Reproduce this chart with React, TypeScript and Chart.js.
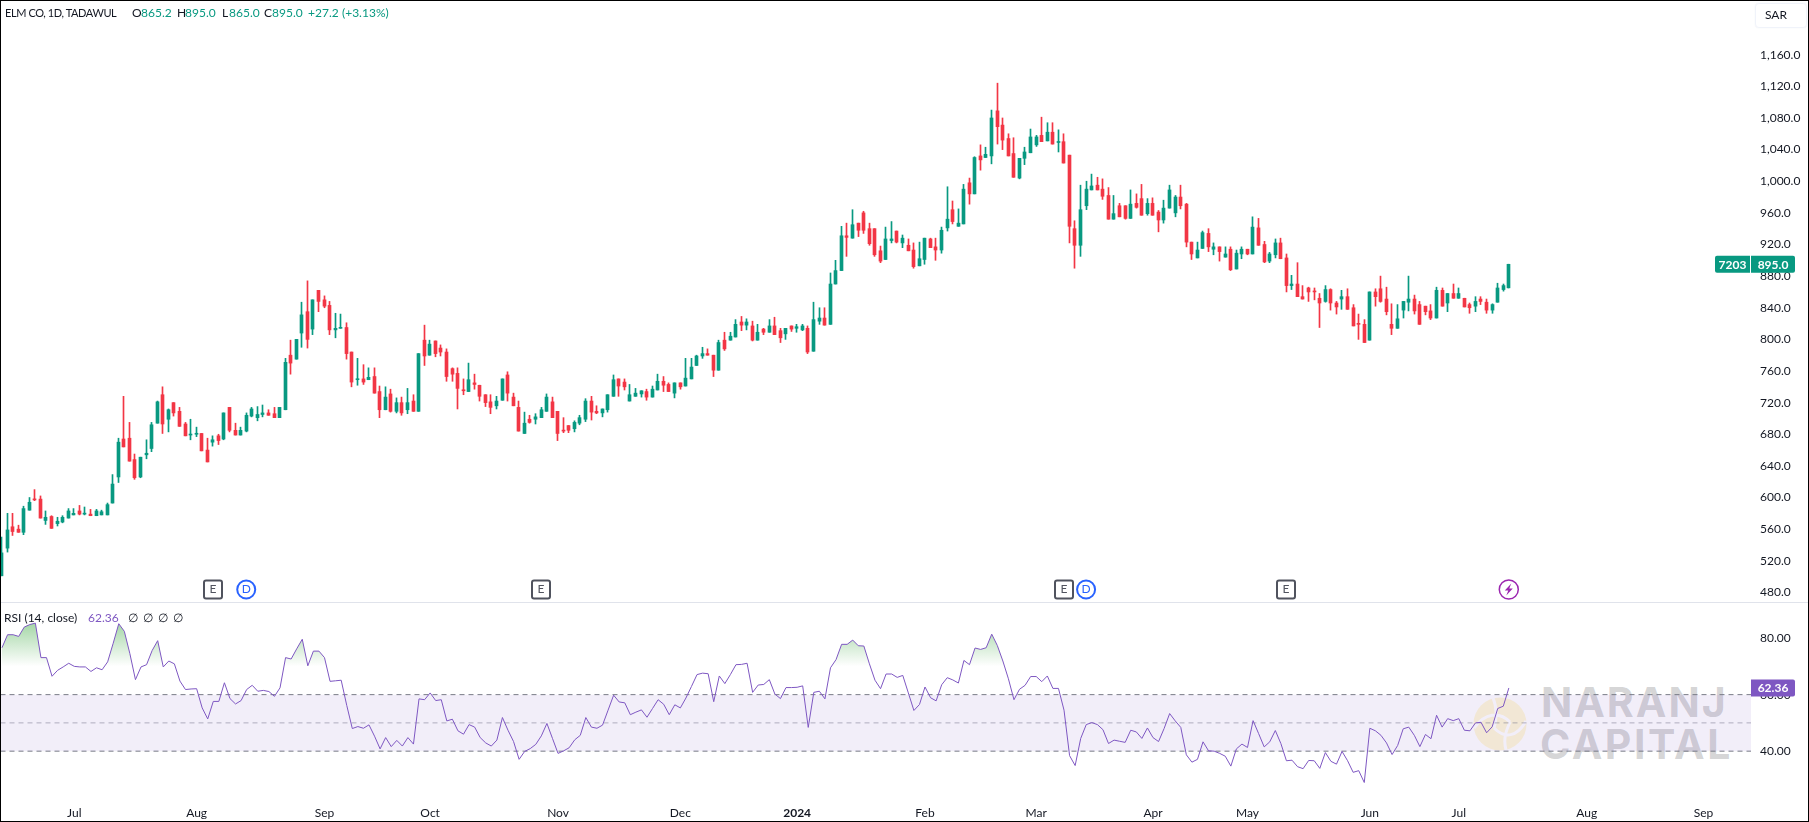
import React, { useEffect, useRef } from "react";
import { Chart, registerables } from "chart.js";

Chart.register(...registerables);

const UP = "#089981";
const DOWN = "#f23645";
const PURPLE = "#7e57c2";
const TEXT = "#131722";
const FONT = 'Lato, sans-serif';

const opens = [
  501,536,563,560,556,584,598,598,571,576,
  567,569,574,578,583,579,579,577,578,578,
  593,626,674,675,648,626,654,662,694,730,
  699,720,709,693,679,680,681,660,670,678,
  674,714,685,679,684,703,701,705,707,706,
  701,711,780,775,808,835,813,862,850,843,
  812,814,815,784,749,750,749,753,734,711,
  731,709,720,711,722,709,799,780,798,789,
  784,763,757,736,734,745,742,730,721,716,
  723,755,727,714,681,699,699,701,709,721,
  709,685,691,687,694,699,722,709,707,711,
  728,750,746,722,728,731,734,727,736,747,
  743,732,745,741,750,767,779,782,780,761,
  799,799,803,822,818,817,799,813,809,817,
  811,807,817,814,812,814,785,823,827,819,
  870,887,931,928,947,960,940,940,912,901,
  925,937,922,919,913,893,901,927,917,913,
  941,964,943,946,998,984,1032,1030,1032,1089,
  1071,1054,1035,1004,1029,1036,1046,1058,1051,1062,
  1049,1050,1033,940,919,969,989,995,990,982,
  952,969,969,953,972,978,959,972,961,951,
  966,960,980,971,923,903,915,934,914,917,
  904,914,889,908,914,908,941,920,899,907,
  922,903,868,870,854,865,861,852,848,863,
  846,851,854,840,820,819,799,860,864,851,
  819,814,837,847,851,844,842,836,827,862,
  846,858,852,852,844,842,851,847,837,847,
  863,865.2,
];
const highs = [
  550,580,580,565,589,600,610,602,583,577,
  575,577,586,586,590,588,585,585,584,593,
  629,675,728,695,655,651,673,695,722,740,
  712,720,714,695,699,689,681,675,678,680,
  707,714,694,689,707,714,715,717,711,714,
  714,776,799,800,847,874,850,862,855,848,
  833,832,821,784,776,768,764,764,741,740,
  737,726,727,738,730,782,818,799,798,793,
  788,764,764,750,770,756,742,730,730,728,
  750,759,732,722,708,704,706,714,731,727,
  709,701,691,697,704,725,728,716,712,730,
  755,750,750,743,738,735,737,741,756,753,
  745,745,745,776,776,780,790,788,780,799,
  809,809,825,829,826,823,819,814,825,828,
  814,814,817,819,819,817,847,840,840,884,
  900,943,947,964,947,962,947,940,918,942,
  949,937,932,927,922,923,928,928,928,942,
  993,975,965,996,1004,1031,1046,1043,1090,1124,
  1080,1060,1055,1029,1043,1066,1058,1081,1074,1074,
  1065,1060,1033,950,995,1000,1009,1005,1003,992,
  982,972,969,989,984,996,978,979,963,976,
  995,982,995,972,923,923,937,940,922,917,
  917,917,913,917,914,955,953,924,910,927,
  928,908,881,897,868,866,865,858,868,864,
  848,862,864,844,832,825,860,864,880,866,
  845,844,848,880,856,848,842,844,866,865,
  858,870,865,852,846,854,854,851,845,871,
  870,895,
];
const lows = [
  501,531,552,556,553,584,596,574,566,561,
  564,568,574,578,578,578,577,577,578,578,
  593,619,664,646,623,625,649,658,694,681,
  683,703,690,678,673,677,659,645,665,667,
  673,683,679,679,683,702,697,702,704,701,
  701,711,756,775,790,789,806,835,840,806,
  802,814,775,740,742,743,749,732,701,711,
  708,707,704,706,709,709,767,780,778,779,
  747,747,712,730,734,737,722,715,706,712,
  723,722,716,684,681,694,693,701,709,701,
  672,682,682,683,692,696,698,706,702,708,
  728,728,736,722,728,727,723,727,736,734,
  734,726,737,741,750,767,776,780,753,761,
  786,799,803,811,812,798,799,806,809,806,
  796,800,810,809,811,782,785,819,818,819,
  870,887,905,928,930,934,919,905,897,901,
  922,922,916,912,890,893,895,916,900,909,
  937,946,943,946,971,984,1014,1030,1022,1047,
  1040,1032,1005,1003,1021,1036,1044,1050,1051,1047,
  1037,1023,922,890,905,964,989,989,977,952,
  952,955,952,953,966,957,957,957,936,947,
  966,955,965,917,901,903,915,911,907,899,
  904,887,889,902,907,908,919,897,897,903,
  902,860,863,854,851,848,850,815,847,837,
  832,838,838,817,800,796,799,842,847,831,
  806,814,827,836,832,819,831,825,827,842,
  835,852,852,841,833,835,844,833,833,847,
  861,865,
];
const closes = [
  530,559,557,556,586,594,597,574,575,561,
  570,575,583,580,579,580,577,583,582,591,
  617,670,664,646,625,651,656,692,721,693,
  711,707,690,678,680,681,659,645,673,672,
  707,685,679,685,704,712,705,707,704,701,
  714,771,770,800,831,800,850,848,842,812,
  814,815,782,746,750,746,752,732,711,727,
  709,720,707,720,709,782,779,794,782,784,
  753,756,738,735,749,743,728,720,714,722,
  750,732,716,684,694,695,702,711,727,701,
  681,684,685,695,701,722,708,707,712,730,
  749,741,740,730,732,735,727,737,747,742,
  734,745,740,751,765,779,782,780,761,796,
  788,804,819,818,822,799,809,809,817,806,
  802,814,813,816,817,784,825,827,818,870,
  887,931,929,945,938,938,921,907,899,927,
  927,923,928,912,892,902,928,916,913,938,
  952,949,947,990,984,1030,1027,1034,1080,1069,
  1052,1032,1005,1029,1037,1056,1056,1050,1062,1047,
  1050,1023,943,919,964,990,994,989,981,952,
  959,955,953,971,967,957,972,957,951,966,
  989,980,969,923,908,913,935,917,917,911,
  908,888,909,914,908,942,919,898,908,922,
  902,868,870,854,851,860,860,846,863,846,
  841,854,838,817,819,796,860,854,848,835,
  814,826,848,851,836,819,835,827,862,842,
  858,852,858,841,840,848,848,837,844,865,
  868,895,
];
const rsi = [
  76.6,81.2,81.2,80.6,83.9,84.8,85.3,73.1,73.1,66.5,
  68.6,69.8,71.1,70,69.8,69.8,68.2,69.5,68.8,71.6,
  78.2,85.1,82.4,74.5,65.3,69.8,70.6,75.6,79.1,69.8,
  71.9,70.9,64.8,61.8,62,62.1,55.3,51.4,57.6,57.6,
  64.2,58.6,56.7,57.9,61.8,63.3,61.2,61.5,61.1,59.4,
  62.4,73.1,72.6,76.2,79.6,70.2,75.4,75.4,73.1,64.7,
  64.9,65.1,56.2,48,48.7,48.1,49.3,45.3,40.8,44.8,
  41.6,43.8,41.8,44.8,42.5,58.5,58.2,60.6,57.9,58.2,
  50.7,51.3,47.2,46,49.4,48.5,44.8,42.9,41.8,43.9,
  51.9,47.4,43.4,37.1,39.9,40.9,42.4,45.4,49.8,44.5,
  39.2,40.1,41.2,44,45.6,51.9,48.5,48.1,49.2,54.5,
  59.8,57.4,57.1,52.9,53.8,54.6,52,55.1,58.2,56.6,
  52.9,56.4,55.3,58.8,62.9,67.1,67.6,67.4,57.5,66.6,
  63.9,67.1,70.6,70.7,71.1,60.8,63.4,63.6,65.3,60.2,
  58.6,62.5,62.5,62.6,63.1,48.4,60.8,61.2,58.5,69.5,
  72.4,77.8,77.8,79.3,77.3,77.2,70.9,65.1,62.1,67.3,
  67.3,66.1,66.8,60.6,54.4,56.5,62.7,58.9,57.8,63.5,
  66,65.2,64.1,72.1,70.6,76.5,76,76.6,81.4,77.4,
  71.9,65.6,58.2,61.9,63.3,66.4,66.4,64.6,66.6,62.2,
  62.2,54.5,38.4,34.9,44.5,49.4,50.1,49.4,47.6,42.7,
  43.9,43.5,43.1,47.4,46.8,44.5,48.2,44.8,43.4,48,
  53.3,50.7,48.4,38.7,36.1,37.1,43.3,40.1,40,39.2,
  38.2,34.7,40.8,42.5,41.3,50.8,46.2,41.5,43.3,47.3,
  42.7,36.6,36.8,34.5,33.8,36.7,36.6,33.9,39.5,36.4,
  35.4,39.9,36.6,32.5,33.1,28.9,48.1,47.2,45.6,42.9,
  38.8,42,47.9,48.5,45.6,41.6,45.9,44.4,52.7,48.5,
  51.5,50.8,51.5,47.4,47.2,50,50.2,46.5,48.6,55.1,
  55.9,62.36,
];

const priceTicks = [1160,1120,1080,1040,1000,960,920,880,840,800,760,720,680,640,600,560,520,480];
const rsiTicks = [80,60,40];
const rsiUpper = 60;
const rsiMiddle = 50;
const rsiLower = 40;
const timeBars = [13,35,58,77,100,122,143,166,186,207,224,246,262,285,306];
const timeLabels = ["Jul","Aug","Sep","Oct","Nov","Dec","2024","Feb","Mar","Apr","May","Jun","Jul","Aug","Sep"];
const earningsBars = [38,97,191,231];
const dividendBars = [44,195];
const newsBars = [271];

const xMin = -0.27;
const xMax = 314.55;

// wicks of 1px look smeared unless the bars sit on whole pixels
const snapBars = {
  id: "snapBars",
  afterDatasetsUpdate(chart: any) {
    chart.data.datasets.forEach((_: any, i: number) => {
      chart.getDatasetMeta(i).data.forEach((el: any) => {
        el.x = Math.round(el.x - 0.5) + 0.5;
      });
    });
  },
};

const priceMarkers = {
  id: "priceMarkers",
  afterDraw(chart: any) {
    const { ctx, scales } = chart;
    const markerY = 589.5;
    ctx.save();
    ctx.textAlign = "center";
    ctx.textBaseline = "middle";

    earningsBars.forEach((bar) => {
      const x = Math.round(scales.x.getPixelForValue(bar));
      ctx.beginPath();
      ctx.roundRect(x - 9, markerY - 9, 18, 18, 2);
      ctx.fillStyle = "#fff";
      ctx.fill();
      ctx.lineWidth = 2;
      ctx.strokeStyle = "#50535e";
      ctx.stroke();
      ctx.fillStyle = "#50535e";
      ctx.font = `12px ${FONT}`;
      ctx.fillText("E", x, markerY);
    });

    dividendBars.forEach((bar) => {
      const x = scales.x.getPixelForValue(bar);
      ctx.beginPath();
      ctx.arc(x, markerY, 9, 0, Math.PI * 2);
      ctx.fillStyle = "#fff";
      ctx.fill();
      ctx.lineWidth = 2;
      ctx.strokeStyle = "#2962ff";
      ctx.stroke();
      ctx.fillStyle = "#2962ff";
      ctx.font = `12px ${FONT}`;
      ctx.fillText("D", x, markerY);
    });

    newsBars.forEach((bar) => {
      const x = scales.x.getPixelForValue(bar);
      ctx.beginPath();
      ctx.arc(x, markerY, 9.5, 0, Math.PI * 2);
      ctx.lineWidth = 1.5;
      ctx.strokeStyle = "#9c27b0";
      ctx.stroke();
      ctx.beginPath();
      ctx.moveTo(x + 2.5, markerY - 6);
      ctx.lineTo(x - 4, markerY + 1);
      ctx.lineTo(x - 0.5, markerY + 1);
      ctx.lineTo(x - 2.5, markerY + 6);
      ctx.lineTo(x + 4, markerY - 1);
      ctx.lineTo(x + 0.5, markerY - 1);
      ctx.closePath();
      ctx.fillStyle = "#9c27b0";
      ctx.fill();
    });

    // last price tag
    const last = closes[closes.length - 1];
    const y = scales.y.getPixelForValue(last);
    ctx.fillStyle = UP;
    ctx.beginPath();
    ctx.roundRect(1715, y - 8.5, 35, 17, [2, 0, 0, 2]);
    ctx.fill();
    ctx.beginPath();
    ctx.roundRect(1751, y - 8.5, 44, 17, [0, 2, 2, 0]);
    ctx.fill();
    ctx.fillStyle = "#fff";
    ctx.font = `bold 12px ${FONT}`;
    ctx.fillText("7203", 1732.5, y + 0.5);
    ctx.fillText(last.toFixed(1), 1773, y + 0.5);
    ctx.restore();
  },
};

const rsiTag = {
  id: "rsiTag",
  afterDraw(chart: any) {
    const { ctx, scales } = chart;
    const last = rsi[rsi.length - 1];
    const y = scales.y.getPixelForValue(last);
    ctx.save();
    ctx.fillStyle = PURPLE;
    ctx.beginPath();
    ctx.roundRect(1751, y - 8.5, 44, 17, [0, 2, 2, 0]);
    ctx.fill();
    ctx.fillStyle = "#fff";
    ctx.font = `bold 12px ${FONT}`;
    ctx.textAlign = "center";
    ctx.textBaseline = "middle";
    ctx.fillText(last.toFixed(2), 1773, y + 0.5);
    ctx.restore();
  },
};

const flatLine = (value: number, color: string) => ({
  type: "line",
  data: [{ x: xMin, y: value }, { x: xMax, y: value }],
  borderColor: color,
  borderWidth: 1,
  borderDash: [5, 4],
  pointRadius: 0,
  fill: false,
  order: 3,
});

// chart.js keeps half a label of room at both ends of an axis, the chart has none
const noAxisPadding = (scale: any) => {
  scale.paddingTop = 0;
  scale.paddingBottom = 0;
  scale.paddingLeft = 0;
  scale.paddingRight = 0;
};

const App: React.FC = () => {
  const priceRef = useRef<HTMLCanvasElement | null>(null);
  const rsiRef = useRef<HTMLCanvasElement | null>(null);

  useEffect(() => {
    if (!priceRef.current || !rsiRef.current) return;

    const candleColors = closes.map((c, i) => (c >= opens[i] ? UP : DOWN));

    const priceChart = new Chart(priceRef.current, {
      type: "bar",
      data: {
        datasets: [
          {
            label: "wick",
            data: closes.map((_, i) => ({ x: i, y: [lows[i], highs[i]] })),
            backgroundColor: candleColors,
            barThickness: 1,
            grouped: false,
            order: 2,
          },
          {
            label: "body",
            data: closes.map((c, i) => ({ x: i, y: [opens[i], c] })),
            backgroundColor: candleColors,
            barThickness: 3,
            minBarLength: 1,
            grouped: false,
            order: 1,
          },
        ] as any,
      },
      options: {
        animation: false,
        responsive: false,
        layout: { padding: 0 },
        plugins: { legend: { display: false }, tooltip: { enabled: false } },
        scales: {
          x: { type: "linear", min: xMin, max: xMax, offset: false, display: false },
          y: {
            position: "right",
            min: 466.6,
            max: 1229.2,
            grid: { display: false, drawTicks: false },
            border: { display: false },
            afterBuildTicks: (scale: any) => {
              scale.ticks = priceTicks.map((value) => ({ value }));
            },
            afterFit: (scale: any) => {
              scale.width = 58;
              noAxisPadding(scale);
            },
            ticks: {
              color: TEXT,
              padding: 9,
              font: { family: FONT, size: 12 },
              callback: (v: any) =>
                Number(v).toLocaleString("en-US", { minimumFractionDigits: 1 }),
            },
          },
        },
      } as any,
      plugins: [snapBars, priceMarkers],
    });

    const rsiChart = new Chart(rsiRef.current, {
      type: "line",
      data: {
        datasets: [
          {
            label: "RSI",
            data: rsi.map((y, x) => ({ x, y })),
            borderColor: PURPLE,
            borderWidth: 1,
            pointRadius: 0,
            tension: 0,
            fill: false,
            order: 1,
          },
          {
            ...flatLine(rsiUpper, "#787b86"),
            fill: { target: { value: rsiLower }, above: "rgba(126,87,194,0.1)" },
          },
          flatLine(rsiMiddle, "rgba(120,123,134,0.55)"),
          flatLine(rsiLower, "#787b86"),
        ] as any,
      },
      options: {
        animation: false,
        responsive: false,
        layout: { padding: 0 },
        plugins: { legend: { display: false }, tooltip: { enabled: false } },
        scales: {
          x: {
            type: "linear",
            min: xMin,
            max: xMax,
            offset: false,
            grid: { display: false, drawTicks: false },
            border: { display: false },
            afterBuildTicks: (scale: any) => {
              scale.ticks = timeBars.map((value) => ({ value }));
            },
            afterFit: (scale: any) => {
              scale.height = 22;
              noAxisPadding(scale);
            },
            ticks: {
              color: TEXT,
              padding: 6,
              maxRotation: 0,
              autoSkip: false,
              font: (c: any) => ({
                family: FONT,
                size: 12,
                weight: c.tick && timeLabels[timeBars.indexOf(c.tick.value)] === "2024" ? "bold" : "normal",
              }),
              callback: (v: any) => timeLabels[timeBars.indexOf(Number(v))],
            },
          },
          y: {
            position: "right",
            min: 22.71,
            max: 92.25,
            grid: { display: false, drawTicks: false },
            border: { display: false },
            afterBuildTicks: (scale: any) => {
              scale.ticks = rsiTicks.map((value) => ({ value }));
            },
            afterFit: (scale: any) => {
              scale.width = 58;
              noAxisPadding(scale);
            },
            ticks: {
              color: TEXT,
              padding: 9,
              font: { family: FONT, size: 12 },
              callback: (v: any) => Number(v).toFixed(2),
            },
          },
        },
      } as any,
      plugins: [rsiTag],
    });

    // green glow above 70, needs the scale to exist first
    const { ctx, scales } = rsiChart as any;
    const glow = ctx.createLinearGradient(0, scales.y.getPixelForValue(85), 0, scales.y.getPixelForValue(70));
    glow.addColorStop(0, "rgba(76,175,80,0.5)");
    glow.addColorStop(1, "rgba(76,175,80,0)");
    (rsiChart.data.datasets[0] as any).fill = {
      target: { value: 70 },
      above: glow,
      below: "rgba(0,0,0,0)",
    };
    rsiChart.update();

    return () => {
      priceChart.destroy();
      rsiChart.destroy();
    };
  }, []);

  const label = (left: number, top: number, text: string, color = TEXT, extra = {}) => (
    <span
      style={{
        position: "absolute",
        left,
        top,
        color,
        font: `12px/16px ${FONT}`,
        whiteSpace: "nowrap",
        ...extra,
      }}
    >
      {text}
    </span>
  );

  return (
    <div style={{ position: "absolute", left: 0, top: 0, width: 1809, height: 822, overflow: "hidden", background: "#fff" }}>
      {/* watermark goes under the canvases */}
      <svg width={54} height={54} viewBox="0 0 54 54" style={{ position: "absolute", left: 1473, top: 697 }}>
        <circle cx={27} cy={27} r={26.5} fill="#fff8d7" />
        <path d="M1 31 C12 16 26 14 37 25 M53 24 C44 40 32 42 21 31 M37 25 C33 34 30 42 33 53 M21 31 C24 22 24 10 20 1" stroke="#fff" strokeWidth={3} fill="none" />
      </svg>
      <div style={{ position: "absolute", left: 1541, top: 678, font: `bold 41px/48px Inter`, letterSpacing: 2, color: "rgba(125,125,130,0.33)", whiteSpace: "nowrap" }}>NARANJ</div>
      <div style={{ position: "absolute", left: 1540, top: 720, font: `bold 41px/48px Inter`, letterSpacing: 2.5, color: "rgba(125,125,130,0.33)", whiteSpace: "nowrap" }}>CAPITAL</div>

      <canvas ref={priceRef} width={1809} height={603} style={{ position: "absolute", left: 0, top: 0, display: "block" }} />
      <canvas ref={rsiRef} width={1809} height={219} style={{ position: "absolute", left: 0, top: 603, display: "block" }} />
      <div style={{ position: "absolute", left: 0, top: 602, width: 1809, height: 1, background: "#e0e3eb" }} />

      {label(5, 5, "ELM CO, 1D, TADAWUL", TEXT, { fontSize: 11, letterSpacing: -0.4 })}
      {label(132, 5, "O")}
      {label(141, 5, "865.2", UP)}
      {label(177, 5, "H")}
      {label(185, 5, "895.0", UP)}
      {label(222, 5, "L")}
      {label(229, 5, "865.0", UP)}
      {label(264, 5, "C")}
      {label(272, 5, "895.0", UP)}
      {label(308, 5, "+27.2", UP)}
      {label(342, 5, "(+3.13%)", UP)}

      {label(4, 610, "RSI (14, close)")}
      {label(88, 610, "62.36", PURPLE)}
      {label(128, 610, "∅")}
      {label(143, 610, "∅")}
      {label(158, 610, "∅")}
      {label(173, 610, "∅")}

      <div style={{ position: "absolute", left: 1755, top: 3, width: 50, height: 23, border: "1px solid #f0f3fa", borderRadius: 4, boxShadow: "0 0 1px #e0e3eb" }}>
        {label(9, 3, "SAR")}
      </div>

      <div style={{ position: "absolute", left: 0, top: 0, width: 1809, height: 822, boxSizing: "border-box", border: "1px solid #000", pointerEvents: "none" }} />
    </div>
  );
};

export default App;
